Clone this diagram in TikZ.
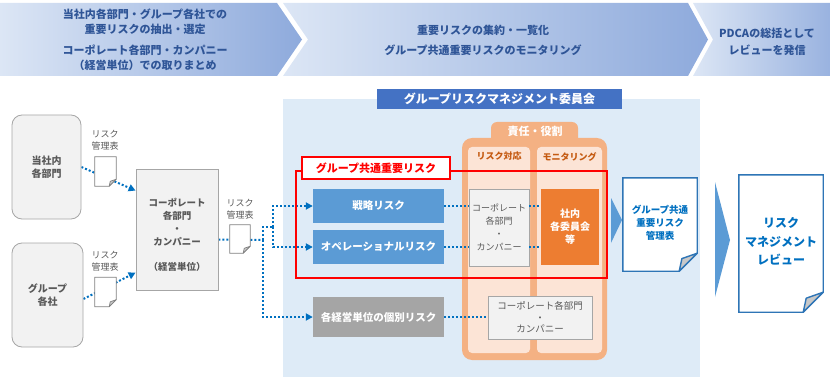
\documentclass[tikz,border=0pt]{standalone}
\usepackage{fontspec}
\setmainfont{Noto Sans CJK JP}
\usetikzlibrary{arrows.meta}
\pgfdeclarelayer{back}\pgfdeclarelayer{lines}\pgfdeclarelayer{docs}
\pgfsetlayers{back,lines,docs,main}
\definecolor{hdrblue}{HTML}{2F5597}
\definecolor{hdrL}{HTML}{DCE6F5}
\definecolor{hdrR}{HTML}{8EAADC}
\definecolor{areablue}{HTML}{DEEBF7}
\definecolor{bannerblue}{HTML}{4472C4}
\definecolor{midblue}{HTML}{5B9BD5}
\definecolor{dotblue}{HTML}{0070C0}
\definecolor{docblue}{HTML}{2E75B6}
\definecolor{boxgray}{HTML}{F2F2F2}
\definecolor{linegray}{HTML}{A6A6A6}
\definecolor{txtgray}{HTML}{595959}
\definecolor{darkgray2}{HTML}{A5A5A5}
\definecolor{orangeA}{HTML}{F4B183}
\definecolor{orangeB}{HTML}{FCE4D6}
\definecolor{orangeC}{HTML}{ED7D31}
\definecolor{orangeT}{HTML}{C55A11}
\definecolor{foldgray}{HTML}{C8C8C8}
\newcommand\docshape[4]{%
  \draw[#3, fill=white, line width=#4] (#1.north west) -- (#1.north east) -- ([yshift=#2]#1.south east) -- ([xshift=-#2]#1.south east) -- (#1.south west) -- cycle;
  \draw[#3, fill=foldgray, line width=#4, line join=round] ([yshift=#2]#1.south east) -- ([xshift=-#2]#1.south east) -- ([xshift={-0.85*#2}, yshift={0.7*#2}]#1.south east) -- cycle;
}
\begin{document}
\begin{tikzpicture}[x=1pt,y=-1pt,
  hdr/.style={text=hdrblue, font=\fontsize{11}{15}\selectfont\bfseries, align=center, inner sep=0},
  srcbox/.style={draw=linegray, line width=0.8pt, fill=boxgray, rounded corners=10pt, text=txtgray, font=\fontsize{10}{13}\selectfont\bfseries, align=center},
  lbl/.style={text=txtgray, font=\fontsize{9}{12}\selectfont, align=center, inner sep=0},
  smalldoc/.style={minimum width=21pt, minimum height=29pt, inner sep=0},
  riskbox/.style={minimum width=131pt, inner sep=0, text=white, font=\fontsize{10.5}{13}\selectfont\bfseries},
  graybox/.style={draw=linegray, line width=0.8pt, fill=boxgray, inner sep=0, text=txtgray, align=center},
  dotline/.style={draw=dotblue, line width=2pt, dash pattern=on 2pt off 2pt},
  dotarrow/.style={dotline, -{Triangle[length=7pt,width=7pt]}},
  colhead/.style={text=orangeT, font=\fontsize{9}{12}\selectfont\bfseries, inner sep=0},
  doctext/.style={text=dotblue, align=center, inner sep=0}
]
\useasboundingbox (0,0) rectangle (830,377);

% ---------- background layer ----------
\begin{pgfonlayer}{back}
\shade[left color=hdrL, right color=hdrR] (0,3) -- (277,3) -- (302,39.5) -- (277,76) -- (0,76) -- cycle;
\shade[left color=hdrL, right color=hdrR] (283,3) -- (688,3) -- (708,39.5) -- (688,76) -- (283,76) -- (308,39.5) -- cycle;
\shade[left color=hdrL, right color=hdrR!90] (693,3) -- (830,3) -- (830,76) -- (693,76) -- (713,39.5) -- cycle;
\fill[areablue] (283,99) rectangle (700,377);
\fill[orangeA, rounded corners=6pt] (491,122) rectangle (578,150);
\fill[orangeA, rounded corners=10pt] (462,138) rectangle (607,360);
\fill[orangeB, rounded corners=4pt] (468,147) rectangle (530,353);
\fill[orangeB, rounded corners=4pt] (537,147) rectangle (602,353);
\end{pgfonlayer}

% ---------- header texts ----------
\node[hdr] (h1a) at (145,22) {当社内各部門・グループ各社での\\重要リスクの抽出・選定};
\node[hdr] (h1b) at (145,57.5) {コーポレート各部門・カンパニー\\（経営単位）での取りまとめ};
\node[hdr, font=\fontsize{11}{20}\selectfont\bfseries] (h2) at (483,40) {重要リスクの集約・一覧化\\グループ共通重要リスクのモニタリング};
\node[hdr, font=\fontsize{11}{17}\selectfont\bfseries] (h3) at (767,41.5) {PDCAの総括として\\レビューを発信};

% ---------- left part ----------
\node[srcbox, minimum width=69pt, minimum height=104pt] (b1) at (46.5,167) {当社内\\各部門};
\node[srcbox, minimum width=71pt, minimum height=104pt] (b2) at (47.5,295) {グループ\\各社};
\node[smalldoc] (d1) at (105.5,171.5) {};
\node[smalldoc] (d2) at (105.5,292) {};
\node[lbl] (l1) at (105,140) {リスク\\管理表};
\node[lbl] (l2) at (105,261) {リスク\\管理表};
\node[graybox, minimum width=82pt, minimum height=121pt] (corp) at (177,229.5) {};
\node[text=txtgray, font=\fontsize{9.5}{13}\selectfont\bfseries, align=center, inner sep=0] (corpt) at (177,235) {コーポレート\\各部門\\・\\カンパニー\\[12pt]（経営単位）};
\node[smalldoc, minimum width=20pt, minimum height=28pt] (d3) at (240,239) {};
\node[lbl] (l3) at (240,209) {リスク\\管理表};
\coordinate (j1) at (263,240);
\coordinate (j2) at (273,227);

% ---------- committee ----------
\node[fill=bannerblue, minimum width=245pt, minimum height=20pt, inner sep=0, text=white, font=\fontsize{12}{14}\selectfont\bfseries] (banner) at (499.5,99) {グループリスクマネジメント委員会};
\node[text=white, font=\fontsize{11}{13}\selectfont\bfseries, inner sep=0] (tab) at (535,131) {責任・役割};
\node[colhead] (ch1) at (499,156.5) {リスク対応};
\node[colhead] (ch2) at (569.5,156.5) {モニタリング};

\node[riskbox, fill=midblue, minimum height=34pt] (senryaku) at (378.5,206) {戦略リスク};
\node[riskbox, fill=midblue, minimum height=34pt] (opera) at (378.5,247) {オペレーショナルリスク};
\node[riskbox, fill=darkgray2, minimum height=40pt] (kobetsu) at (378.5,317) {各経営単位の個別リスク};

\node[graybox, minimum width=60pt, minimum height=77pt, font=\fontsize{9}{13}\selectfont] (mcorp) at (499,227.5) {コーポレート\\各部門\\・\\カンパニー};
\node[fill=orangeC, minimum width=58pt, minimum height=76pt, inner sep=0, text=white, align=center, font=\fontsize{10}{13}\selectfont\bfseries] (shanai) at (570,227) {社内\\各委員会\\等};
\node[graybox, minimum width=104pt, minimum height=43pt, font=\fontsize{9.5}{11.5}\selectfont] (lcorp) at (540,317.5) {コーポレート各部門\\・\\カンパニー};

% red frame
\draw[red, line width=1.6pt] (296,171) rectangle (607,278);
\node[draw=red, line width=1.6pt, fill=white, minimum width=148pt, minimum height=22pt, inner sep=0, text=red, font=\fontsize{11}{13}\selectfont\bfseries] (redlbl) at (376,168) {グループ共通重要リスク};

% ---------- right part ----------
\fill[midblue] (611,198) -- (622,220) -- (611,243) -- cycle;
\node[minimum width=74pt, minimum height=93pt, inner sep=0] (gdoc) at (660,224.5) {};
\node[doctext, font=\fontsize{9.5}{13}\selectfont\bfseries] (gdoct) at (660,223) {グループ共通\\重要リスク\\管理表};
\fill[midblue] (715,182) -- (730,240) -- (715,297) -- cycle;
\node[minimum width=84pt, minimum height=137pt, inner sep=0] (rdoc) at (781,243.5) {};
\node[doctext, font=\fontsize{12}{18.5}\selectfont\bfseries] (rdoct) at (781,241.5) {リスク\\マネジメント\\レビュー};

% ---------- documents ----------
\begin{pgfonlayer}{docs}
\docshape{d1}{7pt}{draw=gray}{0.7pt}
\docshape{d2}{7pt}{draw=gray}{0.7pt}
\docshape{d3}{7pt}{draw=gray}{0.7pt}
\docshape{gdoc}{18pt}{draw=docblue}{1.4pt}
\docshape{rdoc}{20pt}{draw=docblue}{1.4pt}
\end{pgfonlayer}

% ---------- connectors ----------
\begin{pgfonlayer}{lines}
\draw[dotarrow] (b1.east) -- ([yshift=-22pt]corp.north west);
\draw[dotarrow] ([yshift=-4pt]b2.east) -- ([yshift=-104pt]corp.north west);
\draw[dotline] ([yshift=-10pt]corp.east) -- (j1);
\draw[dotarrow] (j1) |- (kobetsu.west);
\draw[dotline] (j1) |- (j2);
\draw[dotarrow] (j2) |- (senryaku.west);
\draw[dotarrow] (j2) |- (opera.west);
\end{pgfonlayer}
\draw[dotline] (senryaku.east) -- (senryaku.east -| mcorp.west);
\draw[dotline] (senryaku.east -| mcorp.east) -- (senryaku.east -| shanai.west);
\draw[dotline] (opera.east) -- (opera.east -| mcorp.west);
\draw[dotline] (opera.east -| mcorp.east) -- (opera.east -| shanai.west);
\draw[dotline] (kobetsu.east) -- (kobetsu.east -| lcorp.west);
\end{tikzpicture}
\end{document}
